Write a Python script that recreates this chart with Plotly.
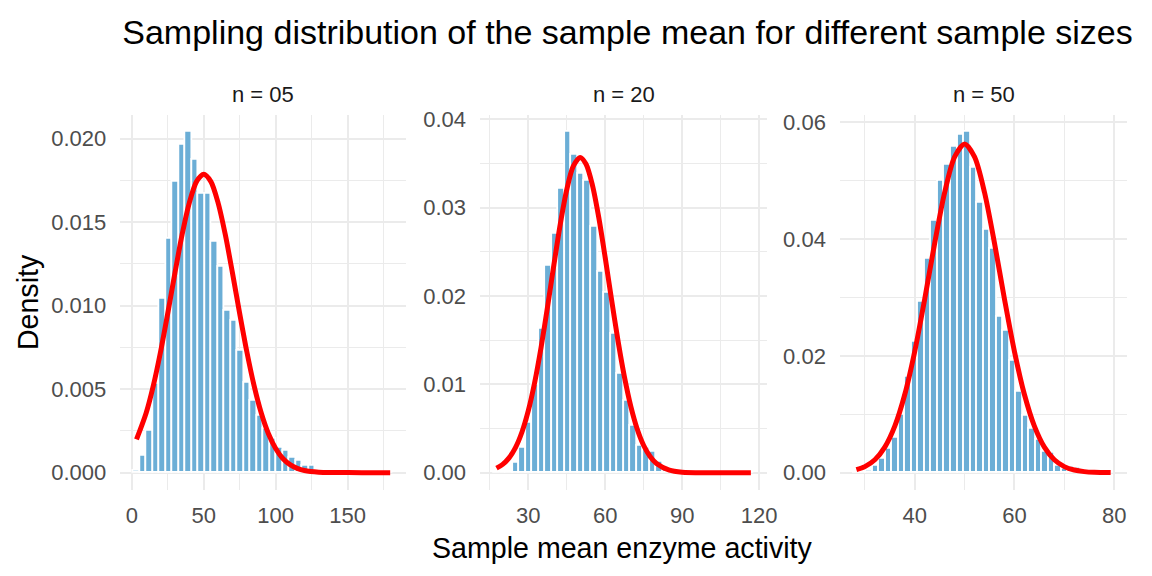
import numpy as np
import plotly.graph_objects as go
from plotly.subplots import make_subplots

# histogram densities (40 bins per panel)
panel_titles = ["n = 05", "n = 20", "n = 50"]

n05_first_bin, n05_last_bin = 3.3, 179.6
n05_density = [0.0001, 0.0010, 0.0025, 0.0053, 0.0104, 0.0140, 0.0174, 0.0196, 0.0204, 0.0187,
               0.0167, 0.0167, 0.0138, 0.0123, 0.0097, 0.0091, 0.0073, 0.0054, 0.0043, 0.0034,
               0.0026, 0.0020, 0.0015, 0.0013, 0.0009, 0.0007, 0.0004, 0.0004, 0.0001, 0.00005,
               0.00005, 0.00002, 0.00002, 0.0, 0.00002, 0.0, 0.0, 0.0, 0.0, 0.00002]

n20_first_bin, n20_last_bin = 17.6, 116.8
n20_density = [0.00002, 0.00004, 0.0001, 0.0011, 0.0028, 0.0056, 0.0100, 0.0163, 0.0234, 0.0271,
               0.0321, 0.0386, 0.0360, 0.0338, 0.0330, 0.0278, 0.0228, 0.0204, 0.0157, 0.0112,
               0.0081, 0.0053, 0.0031, 0.0028, 0.0024, 0.0012, 0.0005, 0.0002, 0.0001, 0.00004,
               0.00002, 0.0, 0.0, 0.0, 0.0, 0.0, 0.0, 0.0, 0.0, 0.00002]

n50_first_bin, n50_last_bin = 28.3, 79.3
n50_density = [0.00004, 0.0001, 0.0003, 0.0012, 0.0024, 0.0041, 0.0059, 0.0100, 0.0165, 0.0224,
               0.0292, 0.0366, 0.0432, 0.0500, 0.0528, 0.0559, 0.0579, 0.0584, 0.0522, 0.0463,
               0.0416, 0.0383, 0.0267, 0.0243, 0.0192, 0.0138, 0.0098, 0.0075, 0.0056, 0.0035,
               0.0034, 0.0012, 0.0007, 0.0010, 0.0009, 0.0002, 0.0001, 0.00005, 0.00002, 0.00002]

# red normal curves
n05_curve_x = [3.3, 10, 15, 20, 25, 30, 35, 40, 45, 50, 55, 60, 65, 70, 75, 80, 85, 90, 95, 100,
               105, 110, 115, 120, 130, 140, 160, 179.6]
n05_curve_y = [0.00199, 0.00357, 0.00521, 0.00723, 0.00953, 0.01195, 0.01425, 0.01615, 0.01742, 0.01786,
               0.01742, 0.01615, 0.01425, 0.01195, 0.00953, 0.00723, 0.00521, 0.00357, 0.00233, 0.00145,
               0.00085, 0.00048, 0.00026, 0.00013, 0.00003, 0.00001, 0.0, 0.0]

n20_curve_x = [17.6, 20, 22.5, 25, 27.5, 30, 32.5, 35, 37.5, 40, 42.5, 45, 47.5, 50.2, 52.5, 55, 57.5,
               60, 62.5, 65, 67.5, 70, 72.5, 75, 77.5, 80, 85, 90, 100, 116.8]
n20_curve_y = [0.00052, 0.00094, 0.00168, 0.00284, 0.00458, 0.00702, 0.01024, 0.01422, 0.01877, 0.02358,
               0.02819, 0.03205, 0.03468, 0.0357, 0.03495, 0.03257, 0.02887, 0.02434, 0.01953, 0.01491,
               0.01083, 0.00748, 0.00492, 0.00308, 0.00183, 0.00104, 0.00029, 0.00006, 0.0, 0.0]

n50_curve_x = [28.3, 30, 32, 34, 36, 38, 40, 42, 44, 46, 48, 50, 52, 54, 56, 58, 60, 62, 64, 66,
               68, 70, 72, 74, 76, 79.3]
n50_curve_y = [0.00051, 0.00104, 0.00222, 0.00438, 0.00797, 0.01339, 0.02077, 0.02974, 0.03932, 0.04800,
               0.05410, 0.0563, 0.05410, 0.04800, 0.03932, 0.02974, 0.02077, 0.01339, 0.00797, 0.00438,
               0.00222, 0.00104, 0.00045, 0.00018, 0.00006, 0.00001]

panels = [
    (n05_first_bin, n05_last_bin, n05_density, n05_curve_x, n05_curve_y),
    (n20_first_bin, n20_last_bin, n20_density, n20_curve_x, n20_curve_y),
    (n50_first_bin, n50_last_bin, n50_density, n50_curve_x, n50_curve_y),
]

FONT = "Liberation Sans, Arial, sans-serif"
GRID = "#EBEBEB"
W, H = 1152, 576


def xp(p):
    return p / W


def yp(p):
    return 1 - p / H


fig = make_subplots(rows=1, cols=3)

for i, (lo, hi, dens, cx, cy) in enumerate(panels):
    centers = np.linspace(lo, hi, len(dens))
    bw = centers[1] - centers[0]
    fig.add_trace(go.Bar(x=centers, y=dens, width=bw,
                         marker=dict(color="#6BAED6", line=dict(color="white", width=1.8)),
                         showlegend=False), row=1, col=i + 1)
    fig.add_trace(go.Scatter(x=cx, y=cy, mode="lines",
                             line=dict(color="#FF0000", width=5, shape="spline", smoothing=0.8),
                             showlegend=False), row=1, col=i + 1)

# panel placement in page pixels
panel_px = [(121.3, 410.0), (484.3, 774.0), (847.3, 1137.0)]
y_dom = [yp(488.5), yp(108.3)]

x_ranges = [[-8.0, 190.9], [11.2, 123.2], [25.0, 82.6]]
x_dticks = [50, 30, 20]
y_ranges = [[-0.00102, 0.02142], [-0.00193, 0.04053], [-0.00292, 0.06132]]
y_dticks = [0.005, 0.01, 0.02]
y_formats = [".3f", ".2f", ".2f"]

tick_font = dict(family=FONT, size=22, color="#4D4D4D")
for i in range(3):
    sfx = "" if i == 0 else str(i + 1)
    fig.layout["xaxis" + sfx].update(
        domain=[xp(panel_px[i][0]), xp(panel_px[i][1])], range=x_ranges[i],
        tick0=0, dtick=x_dticks[i], showgrid=True, gridcolor=GRID, gridwidth=2,
        minor=dict(showgrid=True, gridcolor=GRID, gridwidth=1, dtick=x_dticks[i] / 2, tick0=0),
        zeroline=False, showline=False, ticks="", tickfont=tick_font, ticklabelstandoff=10)
    fig.layout["yaxis" + sfx].update(
        domain=y_dom, range=y_ranges[i], tick0=0, dtick=y_dticks[i], tickformat=y_formats[i],
        showgrid=True, gridcolor=GRID, gridwidth=2,
        minor=dict(showgrid=True, gridcolor=GRID, gridwidth=1, dtick=y_dticks[i] / 2, tick0=0),
        zeroline=False, showline=False, ticks="", tickfont=tick_font, ticklabelstandoff=13)
    fig.add_annotation(text=panel_titles[i], xref="paper", yref="paper",
                       x=xp((panel_px[i][0] + panel_px[i][1]) / 2), y=yp(87.5),
                       xanchor="center", yanchor="middle", showarrow=False,
                       font=dict(family=FONT, size=22, color="#1A1A1A"))

fig.add_annotation(text="Sample mean enzyme activity", xref="paper", yref="paper",
                   x=xp(628.3), y=yp(548), xanchor="center", yanchor="middle", showarrow=False,
                   font=dict(family=FONT, size=28.6, color="black"))
fig.add_annotation(text="Density", xref="paper", yref="paper", textangle=-90,
                   x=xp(29), y=yp(298.5), xanchor="center", yanchor="middle", showarrow=False,
                   font=dict(family=FONT, size=28.6, color="black"))

fig.update_layout(
    width=W, height=H,
    margin=dict(l=0, r=0, t=0, b=0),
    paper_bgcolor="white", plot_bgcolor="white",
    bargap=0,
    title=dict(text="Sampling distribution of the sample mean for different sample sizes",
               x=xp(627.5), xanchor="center", y=yp(32), yanchor="middle",
               font=dict(family=FONT, size=34, color="black")),
)

# drop the default 8px page margin so the figure fills the window exactly
fig.write_html("out.html", config={"displayModeBar": False},
               post_script="document.body.style.margin='0';document.body.style.overflow='hidden';")
